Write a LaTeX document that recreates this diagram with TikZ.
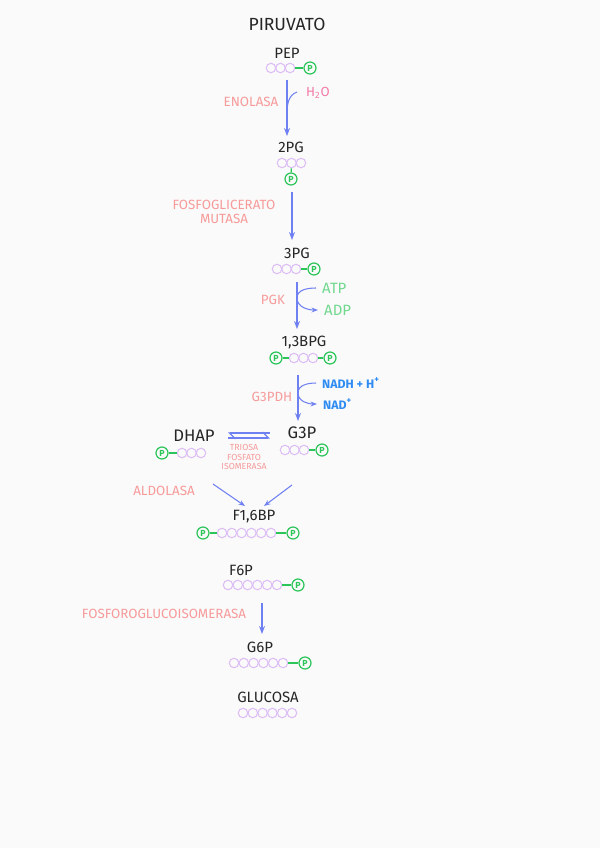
\documentclass[tikz,border=0pt]{standalone}
\usepackage{fontspec}
\setmainfont{Fira Sans}
\usepackage{tikz}
\usetikzlibrary{positioning,arrows.meta}

\definecolor{fondo}{HTML}{FAFAFA}
\definecolor{lila}{HTML}{DDBDF5}
\definecolor{verde}{HTML}{2CC55A}
\definecolor{flecha}{HTML}{6F80F2}
\definecolor{salmon}{HTML}{F79A9A}
\definecolor{rosa}{HTML}{F27AA8}
\definecolor{verdecl}{HTML}{6FD88E}
\definecolor{azul}{HTML}{2E8CF2}

\begin{document}
\begin{tikzpicture}[x=0.2mm, y=-0.2mm,
  met/.style={font=\fontsize{8.5}{9}\selectfont, text=black!85, inner sep=1pt},
  enz/.style={font=\fontsize{7.6}{8.4}\selectfont, text=salmon, inner sep=1pt, align=center},
  sug/.style={circle, draw=lila, line width=0.6pt, minimum size=1.9mm, inner sep=0pt},
  fos/.style={circle, draw=verde, line width=0.7pt, text=verde, minimum size=2.4mm, inner sep=0pt, font=\fontsize{5}{5}\selectfont\bfseries},
  paso/.style={-{Stealth[length=1.6mm]}, draw=flecha, line width=0.7pt},
  lado/.style={-{Stealth[length=1.3mm]}, draw=flecha, line width=0.6pt}]
\useasboundingbox[fill=fondo] (0,0) rectangle (600,848);

% piruvato
\node[met, font=\fontsize{10}{10}\selectfont] (piru) at (287,24) {PIRUVATO};

% PEP
\node[met] (pep) at (287,53) {PEP};
\foreach \i in {0,1,2} \node[sug] (pep\i) at (271+9.5*\i,68) {};
\node[fos] (pepP) at (310,68) {P};
\draw[verde, line width=0.7pt] (pep2) -- (pepP);

% 2PG
\node[met] (dpg) at (291,147) {2PG};
\foreach \i in {0,1,2} \node[sug] (dpg\i) at (282+9.5*\i,163) {};
\node[fos] (dpgP) at (291,179) {P};
\draw[verde, line width=0.7pt] (dpg1) -- (dpgP);

% 3PG
\node[met] (tpg) at (297,253) {3PG};
\foreach \i in {0,1,2} \node[sug] (tpg\i) at (277+9.5*\i,269) {};
\node[fos] (tpgP) at (314,269) {P};
\draw[verde, line width=0.7pt] (tpg2) -- (tpgP);

% 1,3BPG
\node[met] (bpg) at (304,342) {1,3BPG};
\node[fos] (bpgP1) at (276,358) {P};
\foreach \i in {0,1,2} \node[sug] (bpg\i) at (294+9.5*\i,358) {};
\node[fos] (bpgP2) at (330,358) {P};
\draw[verde, line width=0.7pt] (bpgP1) -- (bpg0) (bpg2) -- (bpgP2);

% DHAP y G3P
\node[met, font=\fontsize{9.5}{10}\selectfont] (dhap) at (194,436) {DHAP};
\node[fos] (dhapP) at (162,453) {P};
\foreach \i in {0,1,2} \node[sug] (dhap\i) at (182+9.5*\i,453) {};
\draw[verde, line width=0.7pt] (dhapP) -- (dhap0);

\node[met, font=\fontsize{9.5}{10}\selectfont] (gtp) at (302,433) {G3P};
\foreach \i in {0,1,2} \node[sug] (gtp\i) at (285+9.5*\i,450) {};
\node[fos] (gtpP) at (322,450) {P};
\draw[verde, line width=0.7pt] (gtp2) -- (gtpP);

% F1,6BP
\node[met] (fbp) at (254,517) {F1,6BP};
\node[fos] (fbpP1) at (203,533) {P};
\foreach \i in {0,...,5} \node[sug] (fbp\i) at (222+9.8*\i,533) {};
\node[fos] (fbpP2) at (293,533) {P};
\draw[verde, line width=0.7pt] (fbpP1) -- (fbp0) (fbp5) -- (fbpP2);

% F6P
\node[met] (fsp) at (241,570) {F6P};
\foreach \i in {0,...,5} \node[sug] (fsp\i) at (228+9.8*\i,585) {};
\node[fos] (fspP) at (298,585) {P};
\draw[verde, line width=0.7pt] (fsp5) -- (fspP);

% G6P
\node[met] (gsp) at (260,647) {G6P};
\foreach \i in {0,...,5} \node[sug] (gsp\i) at (234+9.8*\i,663) {};
\node[fos] (gspP) at (305,663) {P};
\draw[verde, line width=0.7pt] (gsp5) -- (gspP);

% glucosa
\node[met] (glu) at (268,697) {GLUCOSA};
\foreach \i in {0,...,5} \node[sug] (glu\i) at (243+9.8*\i,713) {};

% enzimas
\node[enz] (enol) at (251,102) {ENOLASA};
\node[enz] (mut) at (224,212) {FOSFOGLICERATO\\MUTASA};
\node[enz] (pgk) at (273,300) {PGK};
\node[enz] (gpdh) at (272,397) {G3PDH};
\node[enz, font=\fontsize{5}{5.4}\selectfont] (tim) at (244,457) {TRIOSA\\FOSFATO\\ISOMERASA};
\node[enz] (ald) at (164,491) {ALDOLASA};
\node[enz] (pgi) at (164,614) {FOSFOROGLUCOISOMERASA};

% cofactores
\node[font=\fontsize{7.5}{8}\selectfont, text=rosa] (agua) at (318,93) {H\textsubscript{2}O};
\node[font=\fontsize{8.5}{8}\selectfont, text=verdecl, anchor=west] (atp) at (316,288) {ATP};
\node[font=\fontsize{8.5}{8}\selectfont, text=verdecl, anchor=west] (adp) at (318,310) {ADP};
\node[font=\fontsize{7}{7}\selectfont\bfseries, text=azul, anchor=west] (nadh) at (316,383) {NADH + H\textsuperscript{+}};
\node[font=\fontsize{7}{7}\selectfont\bfseries, text=azul, anchor=west] (nad) at (317,404) {NAD\textsuperscript{+}};

% flechas principales
\coordinate (a1) at (287,80);  \coordinate (b1) at (287,136);
\coordinate (a2) at (292,192); \coordinate (b2) at (292,240);
\coordinate (a3) at (297,282); \coordinate (b3) at (297,329);
\coordinate (a4) at (298,375); \coordinate (b4) at (298,421);
\coordinate (a5) at (262,603); \coordinate (b5) at (262,634);
\draw[paso] (a1) -- (b1);
\draw[paso] (a2) -- (b2);
\draw[paso] (a3) -- (b3);
\draw[paso] (a4) -- (b4);
\draw[paso] (a5) -- (b5);

% entradas y salidas laterales
\coordinate (m1) at (287,114);
\draw[flecha, line width=0.6pt] (agua.west) ++(-3,-1) to[out=200,in=90] (m1);
\coordinate (m3) at (297,298);
\draw[lado] (atp.west) to[out=180,in=90] (m3) to[out=-90,in=180] (adp.west);
\coordinate (m4) at (298,393);
\draw[lado] (nadh.west) to[out=180,in=90] (m4) to[out=-90,in=180] (nad.west);

% isomerasa
\coordinate (e1) at (228,433); \coordinate (e2) at (270,433);
\coordinate (e3) at (228,438); \coordinate (e4) at (270,438);
\draw[-{Straight Barb[left,length=1.2mm]}, flecha, line width=0.7pt] (e2) -- (e1);
\draw[-{Straight Barb[left,length=1.2mm]}, flecha, line width=0.7pt] (e3) -- (e4);

% aldolasa
\coordinate (c1) at (213,484); \coordinate (d1) at (245,506);
\coordinate (c2) at (292,485); \coordinate (d2) at (264,506);
\draw[lado] (c1) -- (d1);
\draw[lado] (c2) -- (d2);
\end{tikzpicture}
\end{document}
